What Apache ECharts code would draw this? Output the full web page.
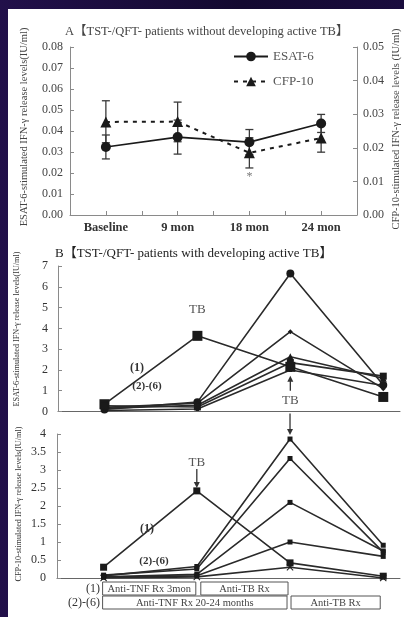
<!DOCTYPE html>
<html><head><meta charset="utf-8">
<script src="https://cdn.jsdelivr.net/npm/echarts@6/dist/echarts.min.js"></script>
<style>
html,body{margin:0;padding:0;width:404px;height:617px;overflow:hidden;background:#150a33;}
#bg{position:absolute;left:0;top:0;width:404px;height:617px;background:linear-gradient(90deg,#22104a 0%,#130930 60%,#1a0c3e 100%);}
#panel{position:absolute;left:8px;top:9px;width:396px;height:608px;background:#fff;}
#main{position:absolute;left:0;top:0;width:404px;height:617px;}
</style></head><body>
<div id="bg"></div><div id="panel"></div><div id="main"></div>
<script>
// ---------- Panel A data ----------
const categoriesA = ['Baseline', '9 mon', '18 mon', '24 mon'];
const esatA      = [0.0324, 0.0371, 0.0347, 0.0436];
const esatALow   = [0.0267, 0.0290, 0.0287, 0.0393];
const esatAHigh  = [0.0381, 0.0452, 0.0407, 0.0479];
const cfpA       = [0.0277, 0.0278, 0.0185, 0.0229];
const cfpALow    = [0.0215, 0.0218, 0.0140, 0.0187];
const cfpAHigh   = [0.0340, 0.0336, 0.0230, 0.0271];
const cfpASig    = ['', '', '*', ''];
const leftTicksA = [0, 0.08, 0.01];   // min, max, step
const rightTicksA = [0, 0.05, 0.01];

// ---------- Panel B data (4 time points) ----------
const timePointsB = [0, 1, 2, 3];
const seriesNamesB = ['(1)', '(2)', '(3)', '(4)', '(5)', '(6)'];
const esatB1 = [0.35, 3.64, 2.15, 0.70];
const esatB2 = [0.10, 0.45, 6.64, 1.27];
const esatB3 = [0.20, 0.40, 3.84, 1.10];
const esatB4 = [0.15, 0.30, 2.63, 1.60];
const esatB5 = [0.28, 0.22, 2.35, 1.70];
const esatB6 = [0.05, 0.12, 2.00, 1.25];
const cfpB1 = [0.30, 2.42, 0.42, 0.05];
const cfpB2 = [0.06, 0.32, 3.86, 0.91];
const cfpB3 = [0.08, 0.25, 3.32, 0.72];
const cfpB4 = [0.03, 0.10, 2.10, 0.75];
const cfpB5 = [0.02, 0.06, 1.00, 0.60];
const cfpB6 = [0.00, 0.03, 0.30, 0.00];
const esatTicksB = [0, 7, 1];
const cfpTicksB = [0, 4, 0.5];

const SERIF = "'Liberation Serif','Times New Roman','Noto Sans CJK SC',serif";
const chart = echarts.init(document.getElementById('main'), null, {renderer: 'canvas'});

function errRender(sig) {
  return function (params, api) {
    const x = api.value(0);
    const lo = api.coord([x, api.value(1)]);
    const hi = api.coord([x, api.value(2)]);
    const w = 4;
    const st = {stroke: '#3a3a3a', lineWidth: 1.3};
    const ch = [
      {type: 'line', shape: {x1: lo[0], y1: lo[1], x2: hi[0], y2: hi[1]}, style: st},
      {type: 'line', shape: {x1: lo[0] - w, y1: lo[1], x2: lo[0] + w, y2: lo[1]}, style: st},
      {type: 'line', shape: {x1: hi[0] - w, y1: hi[1], x2: hi[0] + w, y2: hi[1]}, style: st}
    ];
    const s = sig ? sig[params.dataIndex] : '';
    if (s) ch.push({type: 'text', x: lo[0], y: lo[1] + 9, style: {text: s, fill: '#777', font: '12px ' + SERIF, align: 'center', verticalAlign: 'middle'}});
    return {type: 'group', children: ch};
  };
}

const xSym = 'path://M0,1L1,0L5,4L9,0L10,1L6,5L10,9L9,10L5,6L1,10L0,9L4,5Z';
const upperSymbols = [['rect', 10], ['circle', 8], ['diamond', 5], ['triangle', 7], ['rect', 7], ['triangle', 4]];
const lowerSymbols = [['rect', 7], ['rect', 5], ['rect', 5], ['rect', 5], ['rect', 5], [xSym, 7]];
const esatB = [esatB1, esatB2, esatB3, esatB4, esatB5, esatB6];
const cfpB = [cfpB1, cfpB2, cfpB3, cfpB4, cfpB5, cfpB6];

const axisGrey = '#8a8a8a';
function yAx(gridIndex, t, pos, fmt, labelColor, margin) {
  return {
    type: 'value', gridIndex, position: pos, min: t[0], max: t[1], interval: t[2],
    axisLine: {show: true, onZero: false, lineStyle: {color: axisGrey, width: 1}},
    axisTick: {show: true, inside: true, length: 4, lineStyle: {color: axisGrey}},
    splitLine: {show: false},
    axisLabel: {formatter: fmt, color: labelColor, fontFamily: SERIF, fontSize: 12, margin}
  };
}

const series = [];
// A error bars
series.push({type: 'custom', xAxisIndex: 0, yAxisIndex: 0, z: 1, silent: true,
  renderItem: errRender(null), encode: {x: 0, y: [1, 2]},
  data: categoriesA.map((c, i) => [i, esatALow[i], esatAHigh[i]])});
series.push({type: 'custom', xAxisIndex: 0, yAxisIndex: 1, z: 1, silent: true,
  renderItem: errRender(cfpASig), encode: {x: 0, y: [1, 2]},
  data: categoriesA.map((c, i) => [i, cfpALow[i], cfpAHigh[i]])});
series.push({name: 'ESAT-6', type: 'line', xAxisIndex: 0, yAxisIndex: 0, z: 3,
  data: categoriesA.map((c, i) => [i, esatA[i]]),
  symbol: 'circle', symbolSize: 10, color: '#1a1a1a',
  lineStyle: {color: '#1a1a1a', width: 1.6}, itemStyle: {color: '#1a1a1a'}});
series.push({name: 'CFP-10', type: 'line', xAxisIndex: 0, yAxisIndex: 1, z: 3,
  data: categoriesA.map((c, i) => [i, cfpA[i]]),
  symbol: 'triangle', symbolSize: 11, color: '#1a1a1a',
  lineStyle: {color: '#1a1a1a', width: 2, type: [4, 5]}, itemStyle: {color: '#1a1a1a'}});
// B
esatB.forEach((arr, k) => {
  series.push({name: 'E' + seriesNamesB[k], type: 'line', xAxisIndex: 1, yAxisIndex: 2,
    data: timePointsB.map((t, i) => [t, arr[i]]),
    symbol: upperSymbols[k][0], symbolSize: upperSymbols[k][1],
    lineStyle: {color: '#2a2a2a', width: 1.6}, itemStyle: {color: '#1a1a1a'}});
});
cfpB.forEach((arr, k) => {
  series.push({name: 'C' + seriesNamesB[k], type: 'line', xAxisIndex: 2, yAxisIndex: 3,
    data: timePointsB.map((t, i) => [t, arr[i]]),
    symbol: lowerSymbols[k][0], symbolSize: lowerSymbols[k][1],
    lineStyle: {color: '#2a2a2a', width: 1.6}, itemStyle: {color: '#1a1a1a'}});
});

const option = {
  animation: false,
  backgroundColor: 'transparent',
  grid: [
    {left: 70, top: 47, width: 287, height: 168},
    {left: 58, top: 266, width: 342, height: 145.5},
    {left: 57, top: 434, width: 343, height: 144}
  ],
  legend: {
    data: ['ESAT-6', 'CFP-10'], left: 228, top: 45, orient: 'vertical',
    itemWidth: 34, itemHeight: 12, itemGap: 12,
    textStyle: {fontFamily: SERIF, fontSize: 13, color: '#555'}
  },
  xAxis: [
    {type: 'value', gridIndex: 0, min: -0.5, max: 3.5, interval: 0.5,
      axisLine: {onZero: false, lineStyle: {color: axisGrey}},
      axisTick: {show: true, inside: true, length: 4, lineStyle: {color: axisGrey}},
      splitLine: {show: false},
      axisLabel: {fontFamily: SERIF, fontSize: 12.5, fontWeight: 'bold', color: '#333', margin: 7,
        showMinLabel: true, showMaxLabel: true,
        formatter: v => (Math.abs(v - Math.round(v)) < 1e-6 && categoriesA[Math.round(v)]) ? categoriesA[Math.round(v)] : ''}},
    {type: 'value', gridIndex: 1, min: -0.5, max: 3.18,
      axisLine: {onZero: false, lineStyle: {color: '#666'}}, axisTick: {show: false}, axisLabel: {show: false}, splitLine: {show: false}},
    {type: 'value', gridIndex: 2, min: -0.5, max: 3.18,
      axisLine: {onZero: false, lineStyle: {color: '#666'}}, axisTick: {show: false}, axisLabel: {show: false}, splitLine: {show: false}}
  ],
  yAxis: [
    yAx(0, leftTicksA, 'left', v => v.toFixed(2), '#444', 7),
    yAx(0, rightTicksA, 'right', v => v.toFixed(2), '#444', 6),
    yAx(1, esatTicksB, 'left', v => String(v), '#333', 10),
    yAx(2, cfpTicksB, 'left', v => String(v), '#333', 11)
  ],
  series
};
chart.setOption(option);

// ---------- annotations positioned via the chart's scales ----------
const pU = (x, y) => chart.convertToPixel({xAxisIndex: 1, yAxisIndex: 2}, [x, y]);
const pL = (x, y) => chart.convertToPixel({xAxisIndex: 2, yAxisIndex: 3}, [x, y]);
const txt = (x, y, text, o) => Object.assign({type: 'text', x, y, z: 10,
  style: Object.assign({text, font: '12px ' + SERIF, fill: '#333', align: 'center', verticalAlign: 'middle'}, o || {})});
const vtxt = (x, y, text, size, color) => ({type: 'text', x, y, rotation: Math.PI / 2, z: 10,
  style: {text, font: size + 'px ' + SERIF, fill: color, align: 'center', verticalAlign: 'middle'}});
const arrow = (x, y1, y2) => {
  const dir = y2 > y1 ? 1 : -1;
  return [
    {type: 'line', z: 10, shape: {x1: x, y1: y1, x2: x, y2: y2 - dir * 4}, style: {stroke: '#333', lineWidth: 1.3}},
    {type: 'polygon', z: 10, shape: {points: [[x - 3, y2 - dir * 6], [x + 3, y2 - dir * 6], [x, y2]]}, style: {fill: '#333'}}
  ];
};

const g = [];
g.push(txt(65, 32, 'A【TST-/QFT- patients without developing active TB】', {align: 'left', font: '12.5px ' + SERIF, fill: '#444'}));
g.push(txt(55, 254, 'B【TST-/QFT- patients with developing active TB】', {align: 'left', font: '13px ' + SERIF, fill: '#222'}));
g.push(vtxt(24, 127, 'ESAT-6-stimulated IFN-γ release levels(IU/ml)', 10.5, '#444'));
g.push(vtxt(396, 129, 'CFP-10-stimulated IFN-γ release levels (IU/ml)', 10.5, '#444'));
g.push(vtxt(17, 329, 'ESAT-6-stimulated IFN-γ release levels(IU/ml)', 8.2, '#333'));
g.push(vtxt(19, 504, 'CFP-10-stimulated IFN-γ release levels(IU/ml)', 8.2, '#333'));

// upper B
const uPeak = pU(timePointsB[1], esatB1[1]);
g.push(txt(uPeak[0], uPeak[1] - 26, 'TB', {font: '13px ' + SERIF, fill: '#555'}));
const uTB = pU(timePointsB[2], esatB1[2]);
g.push(...arrow(uTB[0], uTB[1] + 24, uTB[1] + 9));
g.push(txt(uTB[0], uTB[1] + 34, 'TB', {font: '13px ' + SERIF, fill: '#555'}));
g.push(txt(137, 368, '(1)', {font: 'bold 12px ' + SERIF, fill: '#333'}));
g.push(txt(147, 386, '(2)-(6)', {font: 'bold 11px ' + SERIF, fill: '#333'}));

// lower B
const lPeak2 = pL(timePointsB[2], cfpB2[2]);
const axisU = pU(timePointsB[2], 0);
g.push(...arrow(lPeak2[0], axisU[1] + 2, lPeak2[1] - 4));
const lPeak1 = pL(timePointsB[1], cfpB1[1]);
g.push(txt(lPeak1[0], lPeak1[1] - 28, 'TB', {font: '13px ' + SERIF, fill: '#555'}));
g.push(...arrow(lPeak1[0], lPeak1[1] - 22, lPeak1[1] - 3));
g.push(txt(147, 529, '(1)', {font: 'bold 12px ' + SERIF, fill: '#333'}));
g.push(txt(154, 561, '(2)-(6)', {font: 'bold 11px ' + SERIF, fill: '#333'}));

// treatment boxes
const bx = i => pL(timePointsB[i], 0)[0];
const box = (x1, x2, y1, y2, label) => {
  g.push({type: 'rect', z: 10, shape: {x: x1, y: y1, width: x2 - x1, height: y2 - y1}, style: {fill: '#fff', stroke: '#555', lineWidth: 1}});
  g.push(txt((x1 + x2) / 2, (y1 + y2) / 2 + 0.5, label, {font: '10.5px ' + SERIF, fill: '#444'}));
};
box(bx(0) - 1, bx(1) - 1, 582, 595, 'Anti-TNF Rx 3mon');
box(bx(1) + 4, bx(2) - 2, 582, 595, 'Anti-TB Rx');
box(bx(0) - 1, bx(2) - 3, 596, 609, 'Anti-TNF Rx 20-24 months');
box(bx(2) + 1, bx(3) - 3, 596, 609, 'Anti-TB Rx');
g.push(txt(100, 589, '(1)', {align: 'right', font: '12px ' + SERIF, fill: '#333'}));
g.push(txt(100, 603, '(2)-(6)', {align: 'right', font: '12px ' + SERIF, fill: '#333'}));

chart.setOption({graphic: {elements: g}});
</script>
</body></html>
